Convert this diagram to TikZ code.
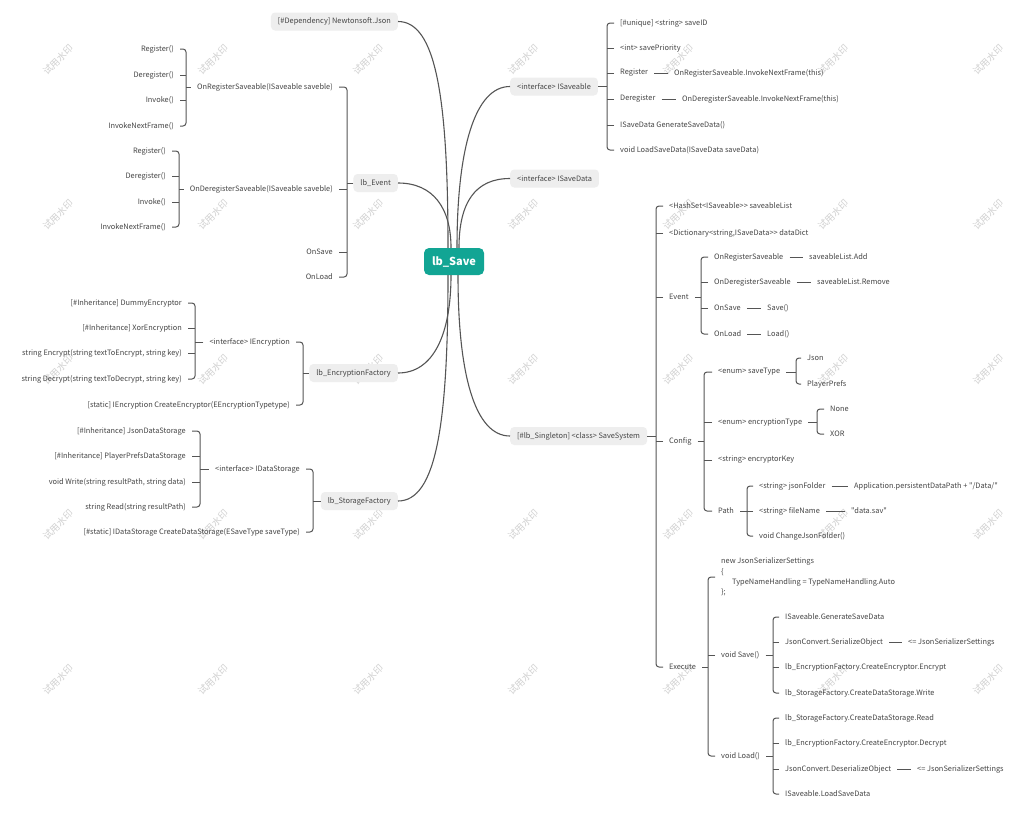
\documentclass[tikz,border=0pt]{standalone}
\usepackage{fontspec}
\setmainfont{Noto Sans CJK SC}[Ligatures=TeXOff]
\usetikzlibrary{calc}
\definecolor{txtc}{HTML}{454545}
\definecolor{lnc}{HTML}{555555}
\definecolor{boxg}{HTML}{EEEEEE}
\definecolor{rootc}{HTML}{12A594}
\tikzset{
 leaf/.style={font=\fontsize{7.4}{10.3}\selectfont, text=txtc, inner xsep=6pt, inner ysep=1pt},
 leafL/.style={leaf, anchor=east},
 leafR/.style={leaf, anchor=west},
 gbox/.style={leaf, fill=boxg, rounded corners=4pt, inner xsep=7pt, minimum height=18pt},
 rootbox/.style={fill=rootc, text=white, font=\fontsize{11}{13}\selectfont\bfseries, rounded corners=5pt, minimum width=60pt, minimum height=27pt},
 brk/.style={draw=lnc, line width=1pt, rounded corners=3pt},
 crv/.style={draw=lnc, line width=1.1pt},
 wmark/.style={font=\fontsize{9.5}{9.5}\selectfont, text=black!18, rotate=45},
}
\newcommand\brR[5]{%
 \coordinate (bx) at (#2,0);
 \draw[brk] (#1.east) -- (#1.east -| bx);
 \draw[brk] (#3.west) -- (#3.west -| bx) -- (#4.west -| bx) -- (#4.west);
 \foreach \ch in {#5}{\draw[brk] (\ch.west) -- (\ch.west -| bx);}
}
\newcommand\brRii[4]{%
 \coordinate (bx) at (#2,0);
 \draw[brk] (#1.east) -- (#1.east -| bx);
 \draw[brk] (#3.west) -- (#3.west -| bx) -- (#4.west -| bx) -- (#4.west);
}
\newcommand\brL[5]{%
 \coordinate (bx) at (#2,0);
 \draw[brk] (#1.west) -- (#1.west -| bx);
 \draw[brk] (#3.east) -- (#3.east -| bx) -- (#4.east -| bx) -- (#4.east);
 \foreach \ch in {#5}{\draw[brk] (\ch.east) -- (\ch.east -| bx);}
}
\newcommand\brLii[4]{%
 \coordinate (bx) at (#2,0);
 \draw[brk] (#1.west) -- (#1.west -| bx);
 \draw[brk] (#3.east) -- (#3.east -| bx) -- (#4.east -| bx) -- (#4.east);
}
\begin{document}
\begin{tikzpicture}[x=1pt,y=-1pt]
\fill[white] (0,0) rectangle (1024,814);
\useasboundingbox (0,0) rectangle (1024,814);
% watermarks
\foreach \wx in {58,213,368,523,678,833,988}{\foreach \wy in {60,215,370,525,680}{\node[wmark] (w-\wx-\wy) at (\wx,\wy) {试用水印};}}

% root
\node[rootbox] (root) at (454,261.5) {lb\_Save};

% level 1 left
\node[gbox,anchor=east] (dep) at (398,21.5) {[\#Dependency] Newtonsoft.Json};
\node[gbox,anchor=east] (ev) at (398,183) {lb\_Event};
\node[gbox,anchor=east] (enc) at (398,373) {lb\_EncryptionFactory};
\node[gbox,anchor=east] (sto) at (398,501) {lb\_StorageFactory};
% level 1 right
\node[gbox,anchor=west] (isv) at (510,86.5) {<interface> ISaveable};
\node[gbox,anchor=west] (isd) at (510,178.5) {<interface> ISaveData};
\node[gbox,anchor=west] (ss) at (510,436) {[\#lb\_Singleton] <class> SaveSystem};

% root curves
\draw[crv] (dep.east) .. controls +(38,0) and +(0,-150) .. ([xshift=-6pt]root.north);
\draw[crv] (ev.east) .. controls +(35,0) and +(0,-40) .. ([xshift=-3pt]root.north);
\draw[crv] (enc.east) .. controls +(35,0) and +(0,60) .. ([xshift=-3pt]root.south);
\draw[crv] (sto.east) .. controls +(38,0) and +(0,150) .. ([xshift=-6pt]root.south);
\draw[crv] (isv.west) .. controls +(-35,0) and +(0,-100) .. ([xshift=3pt]root.north);
\draw[crv] (isd.west) .. controls +(-35,0) and +(0,-45) .. ([xshift=5pt]root.north);
\draw[crv] (ss.west) .. controls +(-35,0) and +(0,100) .. ([xshift=4pt]root.south);

% lb_Event
\node[leafL] (onreg) at (339,87) {OnRegisterSaveable(ISaveable saveble)};
\node[leafL] (ondereg) at (339,189) {OnDeregisterSaveable(ISaveable saveble)};
\node[leafL] (onsaveL) at (339,252) {OnSave};
\node[leafL] (onloadL) at (339,277) {OnLoad};
\brL{ev}{347}{onreg}{onloadL}{ondereg,onsaveL}

\node[leafL] (a1) at (180,49) {Register()};
\node[leafL] (a2) at (180,75) {Deregister()};
\node[leafL] (a3) at (180,100) {Invoke()};
\node[leafL] (a4) at (180,126) {InvokeNextFrame()};
\brL{onreg}{186}{a1}{a4}{a2,a3}

\node[leafL] (b1) at (172,151) {Register()};
\node[leafL] (b2) at (172,176) {Deregister()};
\node[leafL] (b3) at (172,202) {Invoke()};
\node[leafL] (b4) at (172,227) {InvokeNextFrame()};
\brL{ondereg}{179}{b1}{b4}{b2,b3}

% lb_EncryptionFactory
\node[leafL] (ienc) at (296,342) {<interface> IEncryption};
\node[leafL] (cenc) at (296,405) {[static] IEncryption CreateEncryptor(EEncryptionTypetype)};
\brLii{enc}{303}{ienc}{cenc}
\node[leafL] (c1) at (188,303) {[\#Inheritance] DummyEncryptor};
\node[leafL] (c2) at (188,328) {[\#Inheritance] XorEncryption};
\node[leafL] (c3) at (188,353) {string Encrypt(string textToEncrypt, string key)};
\node[leafL] (c4) at (188,379) {string Decrypt(string textToDecrypt, string key)};
\brL{ienc}{195}{c1}{c4}{c2,c3}

% lb_StorageFactory
\node[leafL] (ista) at (306,469) {<interface> IDataStorage};
\node[leafL] (csto) at (306,532) {[\#static] IDataStorage CreateDataStorage(ESaveType saveType)};
\brLii{sto}{313}{ista}{csto}
\node[leafL] (d1) at (192,431) {[\#Inheritance] JsonDataStorage};
\node[leafL] (d2) at (192,456) {[\#Inheritance] PlayerPrefsDataStorage};
\node[leafL] (d3) at (192,482) {void Write(string resultPath, string data)};
\node[leafL] (d4) at (192,507) {string Read(string resultPath)};
\brL{ista}{200}{d1}{d4}{d2,d3}

% ISaveable
\node[leafR] (e1) at (614,23) {[\#unique] <string> saveID};
\node[leafR] (e2) at (614,48) {<int> savePriority};
\node[leafR] (e3) at (614,73) {Register};
\node[leafR] (e4) at (614,99) {Deregister};
\node[leafR] (e5) at (614,125) {ISaveData GenerateSaveData()};
\node[leafR] (e6) at (614,150) {void LoadSaveData(ISaveData saveData)};
\node[leafR] (e3b) at (668,73) {OnRegisterSaveable.InvokeNextFrame(this)};
\node[leafR] (e4b) at (676,99) {OnDeregisterSaveable.InvokeNextFrame(this)};
\draw[brk] (e3) -- (e3b);
\draw[brk] (e4) -- (e4b);
\brR{isv}{607}{e1}{e6}{e2,e3,e4,e5}

% SaveSystem
\node[leafR] (f1) at (663,206) {<HashSet<ISaveable>> saveableList};
\node[leafR] (f2) at (663,233) {<Dictionary<string,ISaveData>> dataDict};
\node[leafR] (f3) at (663,297) {Event};
\node[leafR] (f4) at (663,441) {Config};
\node[leafR] (f5) at (663,667) {Execute};
\brR{ss}{656}{f1}{f5}{f2,f3,f4}

% Event
\node[leafR] (g1) at (708,257) {OnRegisterSaveable};
\node[leafR] (g2) at (708,282) {OnDeregisterSaveable};
\node[leafR] (g3) at (708,308) {OnSave};
\node[leafR] (g4) at (708,334) {OnLoad};
\node[leafR] (g1b) at (803,257) {saveableList.Add};
\node[leafR] (g2b) at (811,282) {saveableList.Remove};
\node[leafR] (g3b) at (761,308) {Save()};
\node[leafR] (g4b) at (761,334) {Load()};
\draw[brk] (g1) -- (g1b);
\draw[brk] (g2) -- (g2b);
\draw[brk] (g3) -- (g3b);
\draw[brk] (g4) -- (g4b);
\brR{f3}{701}{g1}{g4}{g2,g3}

% Config
\node[leafR] (h1) at (712,372) {<enum> saveType};
\node[leafR] (h2) at (712,422) {<enum> encryptionType};
\node[leafR] (h3) at (712,460) {<string> encryptorKey};
\node[leafR] (h4) at (712,511) {Path};
\brR{f4}{704}{h1}{h4}{h2,h3}
\node[leafR] (i1) at (801,358) {Json};
\node[leafR] (i2) at (801,384) {PlayerPrefs};
\brRii{h1}{796}{i1}{i2}
\node[leafR] (j1) at (824,409) {None};
\node[leafR] (j2) at (824,434) {XOR};
\brRii{h2}{817}{j1}{j2}
\node[leafR] (k1) at (753,486) {<string> jsonFolder};
\node[leafR] (k2) at (753,511) {<string> fileName};
\node[leafR] (k3) at (753,536) {void ChangeJsonFolder()};
\node[leafR] (k1b) at (848,486) {Application.persistentDataPath + "/Data/"};
\node[leafR] (k2b) at (845,511) {"data.sav"};
\draw[brk] (k1) -- (k1b);
\draw[brk] (k2) -- (k2b);
\brR{h4}{747}{k1}{k3}{k2}

% Execute
\node[leafR, align=left] (m1) at (715,577) {new JsonSerializerSettings\\\{\\\hspace*{11pt}TypeNameHandling = TypeNameHandling.Auto\\\};};
\node[leafR] (m2) at (715,655) {void Save()};
\node[leafR] (m3) at (715,756) {void Load()};
\brR{f5}{708}{m1}{m3}{m2}
\node[leafR] (n1) at (779,617) {ISaveable.GenerateSaveData};
\node[leafR] (n2) at (779,642) {JsonConvert.SerializeObject};
\node[leafR] (n3) at (779,667) {lb\_EncryptionFactory.CreateEncryptor.Encrypt};
\node[leafR] (n4) at (779,693) {lb\_StorageFactory.CreateDataStorage.Write};
\node[leafR] (n2b) at (902,642) {<= JsonSerializerSettings};
\draw[brk] (n2) -- (n2b);
\brR{m2}{773}{n1}{n4}{n2,n3}
\node[leafR] (o1) at (779,718) {lb\_StorageFactory.CreateDataStorage.Read};
\node[leafR] (o2) at (779,743) {lb\_EncryptionFactory.CreateEncryptor.Decrypt};
\node[leafR] (o3) at (779,769) {JsonConvert.DeserializeObject};
\node[leafR] (o4) at (779,794) {ISaveable.LoadSaveData};
\node[leafR] (o3b) at (911,769) {<= JsonSerializerSettings};
\draw[brk] (o3) -- (o3b);
\brR{m3}{773}{o1}{o4}{o2,o3}
\end{tikzpicture}
\end{document}
